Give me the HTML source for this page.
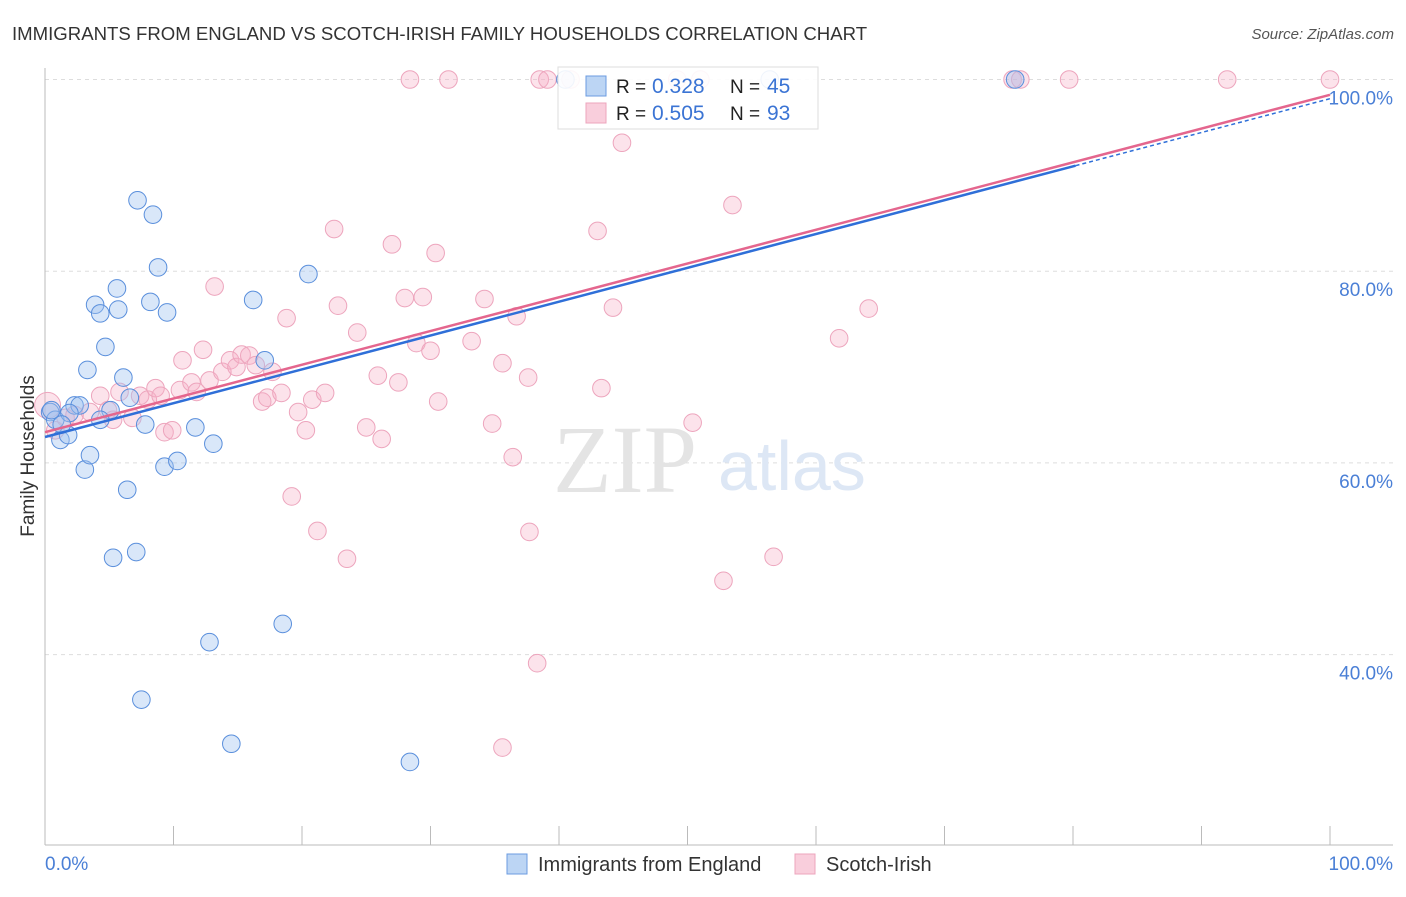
<!DOCTYPE html>
<html><head><meta charset="utf-8"><style>
body{margin:0;background:#fff;font-family:"Liberation Sans",sans-serif}
</style></head><body>
<svg id="c" width="1406" height="892" xmlns="http://www.w3.org/2000/svg"></svg>
<script>
const blueX=[0.4,0.8,1.2,1.8,0.5,2.3,2.7,1.9,1.3,3.1,3.5,5.1,4.3,3.9,4.3,5.7,5.6,4.7,3.3,6.1,6.6,7.2,8.4,8.8,8.2,9.5,7.8,9.3,10.3,11.7,13.1,6.4,5.3,7.1,12.8,7.5,14.5,18.5,28.4,16.2,17.1,20.5,75.5,56.4,40.5];
const blueY=[65.3,64.5,62.4,62.9,65.5,66.0,66.0,65.2,64.0,59.3,60.8,65.5,64.5,76.5,75.6,76.0,78.2,72.1,69.7,68.9,66.8,87.4,85.9,80.4,76.8,75.7,64.0,59.6,60.2,63.7,62.0,57.2,50.1,50.7,41.3,35.3,30.7,43.2,28.8,77.0,70.7,79.7,100,100,100];
const pinkX=[0.2,0.8,1.6,2.3,3.5,4.3,5.3,4.9,5.8,6.8,7.4,8.0,8.6,9.0,9.3,9.9,10.5,10.7,11.4,11.8,12.3,12.8,13.2,13.8,14.4,14.9,15.3,15.9,16.4,16.9,17.3,17.7,18.4,18.8,19.2,19.7,20.3,20.8,21.2,21.8,22.5,22.8,23.5,24.3,25.0,25.9,26.2,27.0,27.5,28.0,28.4,28.9,29.4,30.0,30.4,30.6,31.4,33.2,34.2,34.8,35.6,36.4,36.7,37.6,37.7,38.3,35.6,38.5,39.1,40.9,43.0,43.3,44.2,44.9,49.2,50.4,51.0,52.8,53.5,56.7,61.8,64.1,75.3,75.9,79.7,92.0,100];
const pinkY=[66.0,63.4,64.7,65.0,65.3,67.0,64.5,65.5,67.4,64.7,67.0,66.6,67.8,67.0,63.2,63.4,67.6,70.7,68.4,67.4,71.8,68.6,78.4,69.5,70.7,70.0,71.3,71.2,70.2,66.4,66.8,69.5,67.3,75.1,56.5,65.3,63.4,66.6,52.9,67.3,84.4,76.4,50.0,73.6,63.7,69.1,62.5,82.8,68.4,77.2,100,72.5,77.3,71.7,81.9,66.4,100,72.7,77.1,64.1,70.4,60.6,75.3,68.9,52.8,39.1,30.3,100,100,100,84.2,67.8,76.2,93.4,100,64.2,100,47.7,86.9,50.2,73.0,76.1,100,100,100,100,100];
const blueLine=[62.7,98.0], pinkLine=[63.2,98.4];
const yTicks=[100,80,60,40], yTickLabels=["100.0%","80.0%","60.0%","40.0%"];
const NS="http://www.w3.org/2000/svg", svg=document.getElementById('c');
const sx=v=>45+v*12.85, sy=v=>1038-v*9.585;
function mk(t,a,p){const e=document.createElementNS(NS,t);for(const k in a)e.setAttribute(k,a[k]);(p||svg).appendChild(e);return e;}
function tx(x,y,s,a){const e=mk('text',Object.assign({x:x,y:y},a));e.textContent=s;return e;}
let e;
e=tx(12,40,"IMMIGRANTS FROM ENGLAND VS SCOTCH-IRISH FAMILY HOUSEHOLDS CORRELATION CHART",{'font-size':18.6,fill:'#333'});


e=tx(1394,39,"Source: ZipAtlas.com",{'font-size':15,fill:'#555','text-anchor':'end','font-style':'italic'});


yTicks.forEach((v,i)=>{
 e=mk('line',{x1:45,x2:1393,y1:sy(v),y2:sy(v),stroke:'#ddd','stroke-dasharray':'4,4'});
 
 
 e=tx(1393,sy(v)+25,yTickLabels[i],{'font-size':19,fill:'#4a7fd6','text-anchor':'end'});
 
 
});
e=mk('line',{x1:45,x2:45,y1:68,y2:845,stroke:'#bbb'});


e=mk('line',{x1:45,x2:1393,y1:845,y2:845,stroke:'#bbb'});


for(let i=1;i<=10;i++){e=mk('line',{x1:sx(i*10),x2:sx(i*10),y1:826,y2:845,stroke:'#bbb'});
 
 }
e=tx(45,870,"0.0%",{'font-size':19,fill:'#4a7fd6'});


e=tx(1393,870,"100.0%",{'font-size':19,fill:'#4a7fd6','text-anchor':'end'});


e=tx(34,456,"Family Households",{'font-size':19,fill:'#333','text-anchor':'middle',transform:'rotate(-90 34 456)'});


e=tx(553,492,"ZIP",{'font-size':96,fill:'#e4e4e4','font-family':'Liberation Serif'});


e=tx(718,490,"atlas",{'font-size':70,fill:'#dde7f5'});


pinkX.forEach((x,i)=>{e=mk('circle',{cx:sx(x),cy:sy(pinkY[i]),r:i==0?13:8.8,fill:'rgba(246,175,198,0.35)',stroke:'#eda5bd','stroke-width':1});
 
 });
blueX.forEach((x,i)=>{e=mk('circle',{cx:sx(x),cy:sy(blueY[i]),r:8.8,fill:'rgba(160,195,240,0.4)',stroke:'#5a8fdc','stroke-width':1});
 
 });
const by=x=>blueLine[0]+(blueLine[1]-blueLine[0])*x/100, py=x=>pinkLine[0]+(pinkLine[1]-pinkLine[0])*x/100;
e=mk('line',{x1:sx(0),y1:sy(by(0)),x2:sx(80.2),y2:sy(by(80.2)),stroke:'#2f6fd8','stroke-width':2.5});


e=mk('line',{x1:sx(80.2),y1:sy(by(80.2)),x2:sx(100),y2:sy(by(100)),stroke:'#2f6fd8','stroke-width':1.5,'stroke-dasharray':'4,3'});


e=mk('line',{x1:sx(0),y1:sy(py(0)),x2:sx(100),y2:sy(py(100)),stroke:'#e4668e','stroke-width':2.5});


e=mk('rect',{x:558,y:67,width:260,height:62,fill:'rgba(255,255,255,0.9)',stroke:'#ddd'});


[["0.328","45",'rgba(160,195,240,0.7)','#6b9be0',86],["0.505","93",'rgba(246,185,205,0.7)','#eda5bd',113]].forEach(r=>{
 e=mk('rect',{x:586,y:r[4]-10,width:20,height:20,fill:r[2],stroke:r[3]});
 
 
 e=tx(616,r[4]+7,"R = ",{'font-size':19,fill:'#222'});
 
 
 e=tx(652,r[4]+7,r[0],{'font-size':21,fill:'#3b74d4'});
 
 
 e=tx(730,r[4]+7,"N = ",{'font-size':19,fill:'#222'});
 
 
 e=tx(767,r[4]+7,r[1],{'font-size':21,fill:'#3b74d4'});
 
 
});
[[507,"Immigrants from England",'rgba(160,195,240,0.7)','#6b9be0'],[795,"Scotch-Irish",'rgba(246,185,205,0.7)','#eda5bd']].forEach(r=>{
 e=mk('rect',{x:r[0],y:854,width:20,height:20,fill:r[2],stroke:r[3]});
 
 
 e=tx(r[0]+31,871,r[1],{'font-size':20,fill:'#333'});
 
 
});
</script>
</body></html>
